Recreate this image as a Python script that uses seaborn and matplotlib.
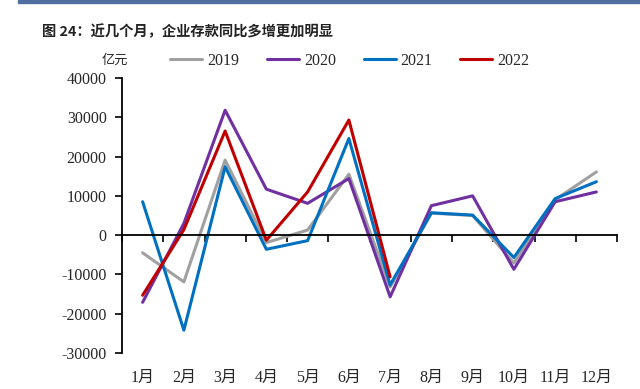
import pandas as pd
import seaborn as sns
import matplotlib.pyplot as plt
from matplotlib.lines import Line2D

# 数据（亿元）
months = ["1月", "2月", "3月", "4月", "5月", "6月", "7月", "8月", "9月", "10月", "11月", "12月"]
v2019 = [-4500, -11900, 19100, -1900, 1300, 15500, -13200, 5600, 5000, -7100, 9000, 16100]
v2020 = [-17100, 3000, 31800, 11700, 8100, 14400, -15700, 7500, 10000, -8700, 8500, 11000]
v2021 = [8500, -24200, 17400, -3600, -1400, 24600, -12700, 5700, 5100, -5700, 9300, 13600]
v2022 = [-15300, 1400, 26500, -1300, 11000, 29300, -10600]

years = ["2019", "2020", "2021", "2022"]
colors = ["#A0A0A0", "#7030A0", "#0070C0", "#C00000"]

rows = []
for y, vals in zip(years, [v2019, v2020, v2021, v2022]):
    for i, v in enumerate(vals):
        rows.append({"year": y, "m": i, "value": v})
df = pd.DataFrame(rows)

sns.set_style("white")
plt.rcParams['font.family'] = ['Liberation Serif', 'Noto Sans CJK SC']

fig = plt.figure(figsize=(6.4, 3.89), dpi=100)
ax = fig.add_axes([122 / 640, 1 - 353 / 389, 495 / 640, 275 / 389])

sns.lineplot(data=df, x="m", y="value", hue="year", palette=colors,
             linewidth=2.2, sort=False, legend=False, ax=ax)

ax.set_xlim(-0.5, 11.5)
ax.set_ylim(-30000, 40000)
ax.set_yticks(range(-30000, 40001, 10000))
ax.set_yticklabels([str(t) for t in range(-30000, 40001, 10000)], fontsize=11.5)
ax.set_xlabel("")
ax.set_ylabel("")

# 坐标轴：x轴放在0处
for s in ["top", "right"]:
    ax.spines[s].set_visible(False)
ax.spines["bottom"].set_position(("data", 0))
ax.spines["left"].set_linewidth(1.3)
ax.spines["bottom"].set_linewidth(1.3)
ax.spines["left"].set_color("black")
ax.spines["bottom"].set_color("black")
ax.set_xticks([i - 0.5 for i in range(13)])
ax.set_xticklabels([])
ax.tick_params(axis="x", direction="out", length=5, width=1.2, color="black", bottom=True)
ax.tick_params(axis="y", direction="out", length=5, width=1.2, color="black", left=True, pad=6)

sec = ax.secondary_xaxis(0)
sec.set_xticks(range(12))
sec.set_xticklabels(months, fontsize=11.5)
sec.tick_params(length=0, pad=12)
sec.spines["bottom"].set_visible(False)

# 图例
handles = [Line2D([0], [0], color=c, lw=2.2) for c in colors]
fig.legend(handles, years, loc="center left", bbox_to_anchor=(164 / 640, 1 - 61 / 389),
           ncol=4, frameon=False, fontsize=11.5, handlelength=2.0,
           handletextpad=0.3, columnspacing=1.75, borderaxespad=0)
fig.text(115 / 640, 1 - 60 / 389, "亿元", fontsize=9.5, ha="center", va="center",
         family=['Noto Sans CJK SC'])

# 标题和顶部色条
fig.text(42 / 640, 1 - 32 / 389, "图 24：近几个月，企业存款同比多增更加明显", fontsize=10.3,
         fontweight="bold", ha="left", va="center", color="#222222",
         family=['Noto Sans CJK SC', 'DejaVu Sans'])
fig.patches.append(plt.Rectangle((18 / 640, 1 - 3 / 389), 1, 3 / 389, transform=fig.transFigure,
                                 color="#4F6FA0", zorder=5))

fig.savefig("out.png", dpi=100)
